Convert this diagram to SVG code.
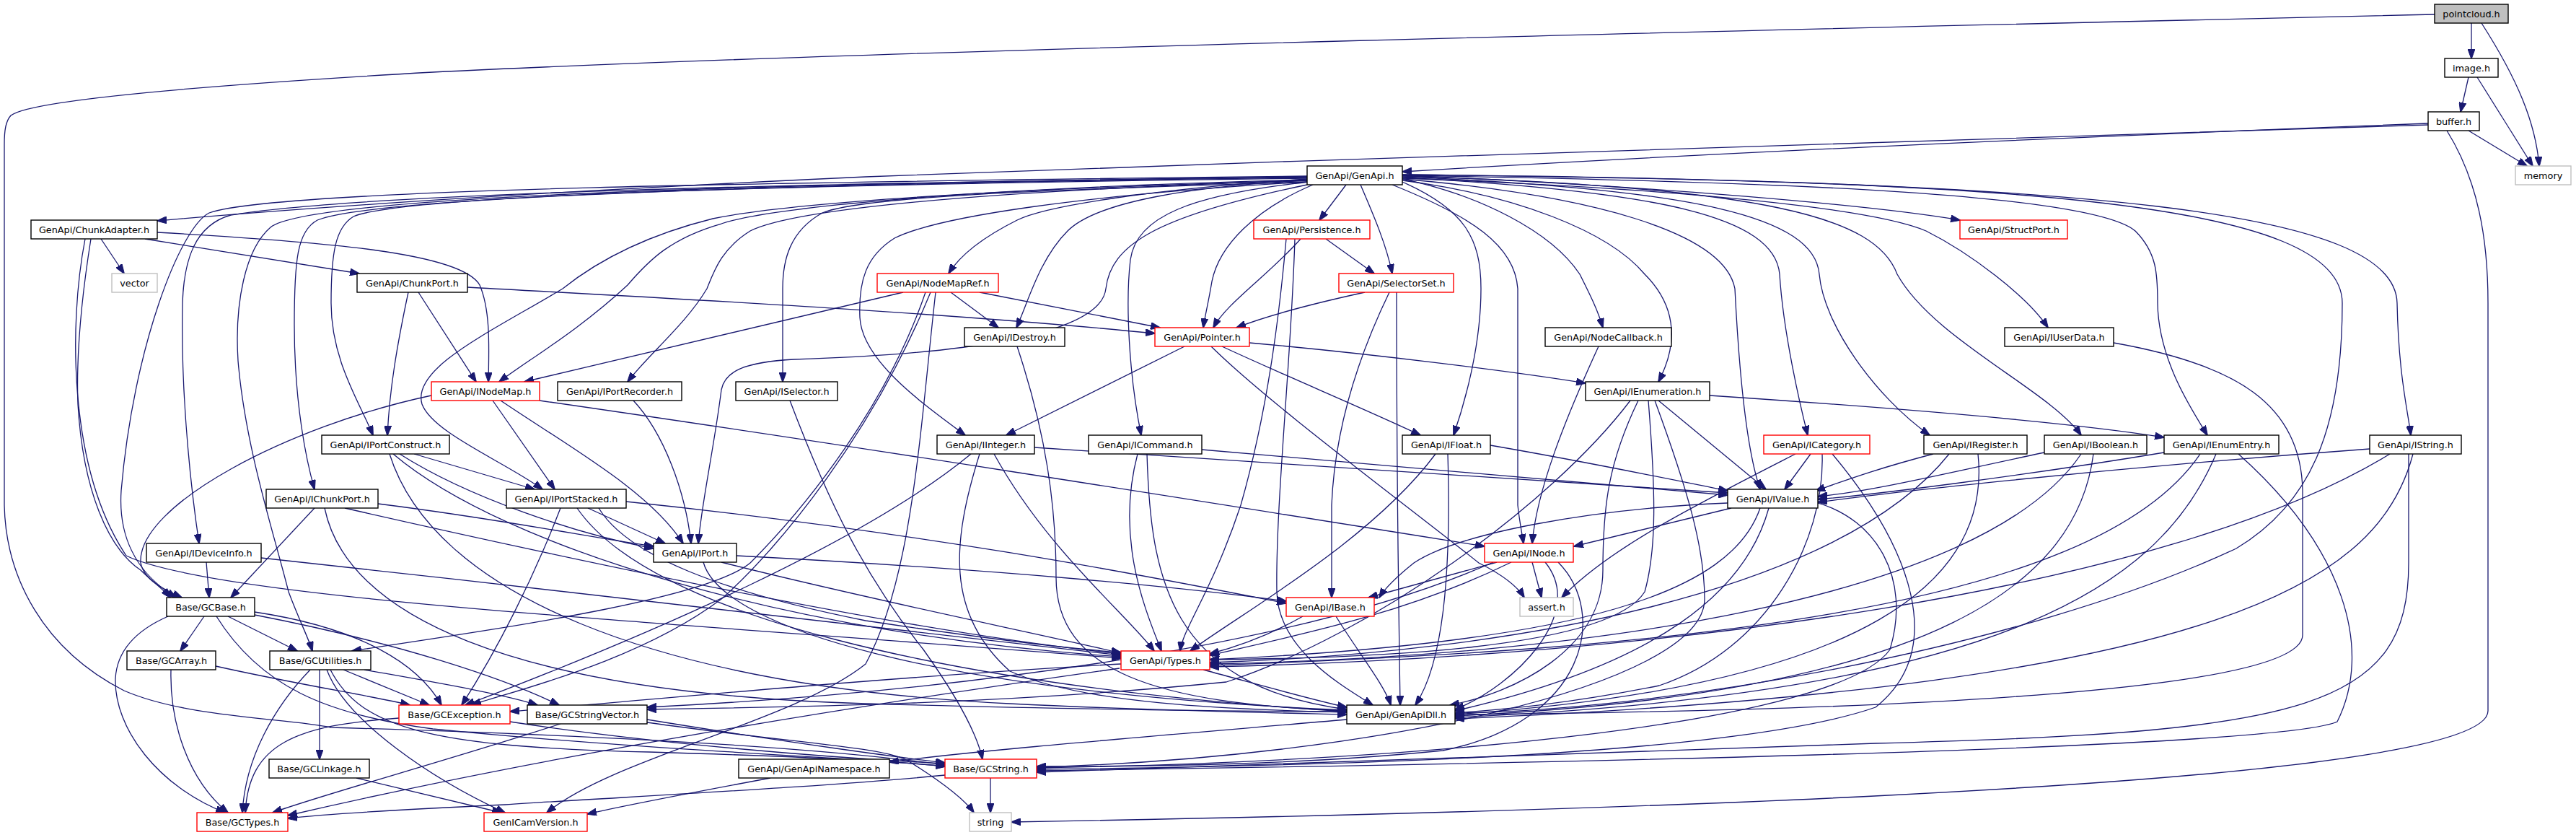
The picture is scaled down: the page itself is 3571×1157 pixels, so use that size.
<svg xmlns="http://www.w3.org/2000/svg" width="3571" height="1157" viewBox="0 0 3571 1157">
<style>
.n rect{fill:#fff;stroke:#000;stroke-width:1.4}
.n.red rect{stroke:#ff0000}
.n.ext rect{stroke:#bfbfbf}
.n.top rect{fill:#bfbfbf}
.n text{font-family:"DejaVu Sans","Liberation Sans",sans-serif;font-size:12.8px;text-anchor:middle;fill:#000}
#edges path{fill:none;stroke:#191970;stroke-width:1.3;marker-end:url(#a)}
</style>
<defs>
<marker id="a" markerWidth="14" markerHeight="10" refX="13" refY="5" orient="auto" markerUnits="userSpaceOnUse">
<path d="M0,0 L14,5 L0,10 z" fill="#191970" stroke="#191970" stroke-width="1"/>
</marker>
</defs>
<rect width="3571" height="1157" fill="#fff"/>
<g id="edges">
<path d="M3426,32 L3426,81"/>
<path d="M3440,32 C3490,110 3515,170 3520,230"/>
<path d="M3375,20 C2500,40 1200,70 600,100 C250,120 40,140 15,160 C8,168 6,180 6,200 L6,700 C8,800 60,900 172,957 C260,995 400,995 459,1008 C700,1015 1100,1030 1310,1060"/>
<path d="M3422,107 L3411,155"/>
<path d="M3434,107 L3511,230"/>
<path d="M3422,181 L3503,230"/>
<path d="M3366,171 C3000,185 2400,210 1944,238"/>
<path d="M3366,173 C3000,182 2000,215 1200,245 C700,268 400,290 218,306"/>
<path d="M3392,181 C3435,250 3449,330 3449,420 L3449,985 C3449,1090 2200,1125 1402,1139"/>
<path d="M1866,256 L1829,305"/>
<path d="M1886,256 C1905,300 1922,340 1930,379"/>
<path d="M1812,248 C1600,262 1450,285 1410,305 C1360,330 1330,355 1315,379"/>
<path d="M1944,243 C2300,258 2600,285 2717,305"/>
<path d="M1812,250 C1650,258 1520,280 1480,320 C1440,360 1425,420 1409,454"/>
<path d="M1820,256 C1740,290 1690,340 1680,390 C1675,420 1670,440 1668,454"/>
<path d="M1944,248 C2050,270 2150,320 2190,380 C2205,410 2215,430 2222,454"/>
<path d="M1944,247 C2350,262 2600,290 2670,320 C2730,350 2810,410 2839,454"/>
<path d="M1812,249 C1300,262 1060,290 1000,310 C930,330 900,360 870,395 C800,460 730,500 692,529"/>
<path d="M1812,250 C1350,265 1100,290 1040,320 C1000,345 990,375 980,400 C950,450 900,490 870,529"/>
<path d="M1812,252 C1500,262 1200,270 1140,295 C1095,320 1085,360 1085,400 L1085,529"/>
<path d="M1944,250 C2100,270 2230,320 2280,380 C2320,420 2330,470 2299,529"/>
<path d="M1812,247 C1100,256 560,270 490,300 C465,315 459,350 459,420 C459,500 500,560 517,603"/>
<path d="M1812,252 C1500,270 1300,300 1240,330 C1200,355 1190,390 1192,440 C1195,500 1280,560 1338,603"/>
<path d="M1815,252 C1650,270 1575,300 1567,360 C1560,420 1565,520 1582,603"/>
<path d="M1944,252 C2030,290 2053,330 2053,400 C2053,480 2030,560 2015,603"/>
<path d="M1944,246 C2300,265 2460,300 2467,380 C2472,460 2495,560 2506,603"/>
<path d="M1944,245 C2350,262 2515,300 2522,380 C2528,450 2600,550 2675,603"/>
<path d="M1944,244 C2450,260 2600,300 2630,380 C2680,470 2840,540 2885,603"/>
<path d="M1944,243 C2500,252 2900,270 2960,320 C2990,350 2991,380 2991,420 C2992,500 3040,570 3060,603"/>
<path d="M1944,242 C2900,252 3320,290 3323,420 C3325,520 3338,570 3342,603"/>
<path d="M1812,246 C1100,255 520,272 440,305 C412,320 408,360 408,450 C408,560 425,640 436,678"/>
<path d="M1812,250 C1400,262 1100,280 988,303 C900,325 830,360 780,400 C680,460 570,510 585,560 C600,600 700,640 752,678"/>
<path d="M1944,248 C2200,270 2390,320 2405,400 C2410,500 2420,620 2440,678"/>
<path d="M1812,245 C1100,254 500,268 320,298 C270,312 255,360 253,420 C250,560 268,700 276,753"/>
<path d="M1812,256 C1600,300 1540,340 1533,400 C1525,470 1300,492 1100,498 C1030,502 1005,515 1000,540 C990,620 972,700 968,753"/>
<path d="M1930,256 C2040,300 2100,340 2104,400 L2104,700 C2106,720 2110,740 2112,753"/>
<path d="M1812,244 C1100,252 380,262 290,295 C250,315 185,480 168,680 C162,770 215,810 244,828"/>
<path d="M1812,245 C1100,254 430,270 375,315 C340,345 325,420 330,500 C340,620 380,740 400,820 C415,860 428,885 433,902"/>
<path d="M1944,242 C2800,250 3247,280 3247,420 C3247,600 3200,700 3100,760 C2800,900 2300,985 2017,988"/>
<path d="M140,331 L172,379"/>
<path d="M201,331 L498,379"/>
<path d="M218,322 C450,335 640,350 665,395 C680,430 678,480 677,529"/>
<path d="M126,331 C115,400 105,480 108,560 C115,680 150,760 195,790 C210,805 225,815 236,828"/>
<path d="M118,331 C95,450 95,650 175,770 C300,830 900,860 1554,912"/>
<path d="M580,405 L660,529"/>
<path d="M566,405 C550,480 540,540 537,603"/>
<path d="M648,398 C900,412 1300,432 1601,462"/>
<path d="M1252,405 L727,529"/>
<path d="M1318,405 L1384,454"/>
<path d="M1358,405 L1608,454"/>
<path d="M1283,405 C1230,560 1120,700 1040,780 C980,830 700,870 488,902"/>
<path d="M1290,405 C1210,600 1080,760 1000,830 C880,920 700,960 654,977"/>
<path d="M1297,405 C1275,600 1265,800 1200,920 C1100,1000 850,1050 758,1126"/>
<path d="M1892,405 C1800,425 1750,440 1714,454"/>
<path d="M1926,405 C1880,500 1850,600 1846,700 L1846,828"/>
<path d="M1936,405 C1936,700 1940,900 1941,977"/>
<path d="M1803,331 C1760,380 1700,420 1682,454"/>
<path d="M1838,331 L1905,379"/>
<path d="M1783,331 C1775,420 1760,560 1720,700 C1680,820 1640,870 1636,902"/>
<path d="M1795,331 C1790,500 1768,700 1770,820 C1772,900 1860,950 1903,977"/>
<path d="M1410,480 C1450,600 1464,700 1464,800 C1464,930 1600,975 1867,985"/>
<path d="M1642,480 L1395,603"/>
<path d="M1694,480 C1780,520 1900,570 1969,603"/>
<path d="M1732,475 C1900,490 2100,515 2198,531"/>
<path d="M1679,480 C1760,560 1950,700 2050,780 C2090,800 2105,815 2113,828"/>
<path d="M2216,480 C2170,580 2130,680 2124,753"/>
<path d="M2930,475 C3100,505 3190,560 3192,680 L3192,880 C3192,960 2600,985 2017,990"/>
<path d="M683,555 L769,678"/>
<path d="M694,555 C790,620 900,680 947,753"/>
<path d="M748,555 C1200,620 1700,700 2058,757"/>
<path d="M598,548 C400,590 190,700 195,780 C200,805 230,818 252,828"/>
<path d="M878,555 C920,600 950,680 958,753"/>
<path d="M1095,555 C1150,700 1200,800 1280,900 C1330,970 1355,1020 1362,1052"/>
<path d="M2370,548 C2700,570 2900,590 3000,606"/>
<path d="M2299,555 L2448,678"/>
<path d="M2271,555 C2230,640 2222,700 2222,790 C2222,900 2100,960 2010,977"/>
<path d="M2285,555 C2295,680 2297,760 2280,820 C2230,900 1900,912 1677,914"/>
<path d="M2294,555 C2340,680 2363,760 2363,830 C2363,950 1900,1050 1437,1063"/>
<path d="M2260,555 C2150,700 1900,880 1700,945 C1400,975 1100,980 897,983"/>
<path d="M574,629 L741,678"/>
<path d="M554,629 C650,690 800,740 906,760"/>
<path d="M545,629 C700,760 1100,880 1554,910"/>
<path d="M540,629 C600,820 900,950 1400,975 C1600,985 1780,988 1867,990"/>
<path d="M1434,620 C1900,650 2200,670 2395,683"/>
<path d="M1378,629 C1450,760 1560,850 1600,902"/>
<path d="M1358,629 C1320,750 1310,850 1400,930 C1500,975 1700,983 1867,987"/>
<path d="M1346,629 C1200,750 900,880 645,977"/>
<path d="M1666,623 C2000,650 2250,675 2395,686"/>
<path d="M1577,629 C1545,750 1590,850 1610,902"/>
<path d="M1590,629 C1595,800 1620,950 1867,983"/>
<path d="M2066,617 C2200,640 2320,665 2395,680"/>
<path d="M1990,629 C1900,750 1720,850 1650,902"/>
<path d="M2007,629 C2012,800 2000,920 1962,977"/>
<path d="M2510,629 L2474,678"/>
<path d="M2489,629 C2350,700 2230,760 2165,828"/>
<path d="M2526,629 C2530,750 2450,900 2300,950 C2150,980 2050,985 2017,988"/>
<path d="M2540,629 C2650,760 2700,900 2600,980 C2400,1050 1800,1062 1437,1066"/>
<path d="M2680,629 C2600,650 2560,665 2517,680"/>
<path d="M2702,629 C2550,820 2100,905 1677,918"/>
<path d="M2742,629 C2760,800 2600,950 2017,990"/>
<path d="M2834,627 C2700,655 2600,680 2520,688"/>
<path d="M2885,629 C2750,830 2200,910 1677,920"/>
<path d="M2902,629 C2880,800 2700,960 2017,992"/>
<path d="M3000,627 C2800,660 2600,685 2520,692"/>
<path d="M3050,629 C2900,850 2300,900 1677,922"/>
<path d="M3072,629 C3000,800 2800,960 2017,994"/>
<path d="M3103,629 C3250,760 3290,900 3240,1000 C3150,1040 2000,1060 1437,1068"/>
<path d="M3285,622 C2900,650 2600,685 2520,696"/>
<path d="M3313,629 C3000,820 2300,910 1677,924"/>
<path d="M3345,629 C3300,800 3100,950 2017,996"/>
<path d="M3339,629 L3339,780 C3339,980 3200,1015 2600,1030 C2000,1050 1700,1060 1437,1070"/>
<path d="M436,704 L320,828"/>
<path d="M524,698 C700,720 820,745 906,757"/>
<path d="M478,704 C900,800 1300,880 1554,906"/>
<path d="M450,704 C480,850 700,960 1200,975 C1500,983 1750,986 1867,986"/>
<path d="M815,704 L922,753"/>
<path d="M868,695 C1300,740 1600,800 1783,836"/>
<path d="M830,704 C870,770 1000,820 1200,860 C1400,890 1500,900 1554,904"/>
<path d="M800,704 C900,850 1300,950 1867,986"/>
<path d="M777,704 C740,800 690,900 640,977"/>
<path d="M2400,704 L2182,757"/>
<path d="M2395,697 C2200,705 2020,740 1960,780 C1935,800 1920,815 1912,828"/>
<path d="M2440,704 C2400,820 2200,890 1677,914"/>
<path d="M2452,704 C2420,820 2300,920 2017,985"/>
<path d="M2520,697 C2600,720 2650,800 2620,900 C2550,1000 2000,1055 1437,1064"/>
<path d="M286,779 L290,828"/>
<path d="M362,773 C800,820 1300,880 1554,908"/>
<path d="M1021,770 C1400,790 1650,815 1783,833"/>
<path d="M1000,779 C1200,830 1450,880 1554,905"/>
<path d="M975,779 C1000,870 1300,960 1867,984"/>
<path d="M2075,779 L1897,828"/>
<path d="M2124,779 L2137,828"/>
<path d="M2095,779 C1950,850 1800,880 1677,908"/>
<path d="M2142,779 C2200,850 2100,950 2017,983"/>
<path d="M2160,779 C2230,850 2200,1000 2000,1040 C1800,1060 1600,1062 1437,1062"/>
<path d="M2070,779 C1800,900 1300,960 897,980"/>
<path d="M283,854 L250,902"/>
<path d="M316,854 L412,902"/>
<path d="M353,848 C500,870 580,920 612,977"/>
<path d="M353,852 C550,890 700,940 775,977"/>
<path d="M233,854 C185,875 162,905 160,940 C158,1010 220,1090 312,1126"/>
<path d="M300,854 C360,950 450,990 600,1010 C900,1040 1200,1050 1310,1062"/>
<path d="M237,928 C235,1000 260,1080 316,1126"/>
<path d="M299,923 C420,950 520,965 568,977"/>
<path d="M430,928 C380,980 340,1050 336,1126"/>
<path d="M443,928 L443,1052"/>
<path d="M453,928 C480,1000 600,1080 700,1126"/>
<path d="M476,928 L595,977"/>
<path d="M505,928 C600,945 700,962 745,977"/>
<path d="M458,928 C500,1010 600,1035 900,1042 C1100,1048 1250,1055 1310,1062"/>
<path d="M553,995 C410,1005 345,1030 340,1126"/>
<path d="M707,1000 C900,1030 1150,1050 1310,1058"/>
<path d="M777,1003 C600,1060 450,1100 378,1126"/>
<path d="M897,997 C1100,1030 1250,1050 1310,1057"/>
<path d="M897,1001 C1100,1030 1230,1035 1260,1055 C1300,1080 1335,1105 1350,1126"/>
<path d="M1867,997 C1600,1020 1350,1040 1233,1056"/>
<path d="M1668,928 C1750,950 1820,970 1867,980"/>
<path d="M1554,920 C1200,940 900,970 707,986"/>
<path d="M1552,926 C1100,990 700,1060 399,1130"/>
<path d="M1852,854 C1880,900 1920,950 1928,977"/>
<path d="M1806,854 C1760,880 1720,895 1677,906"/>
<path d="M494,1078 L695,1126"/>
<path d="M1068,1078 C950,1100 870,1115 814,1128"/>
<path d="M1373,1078 L1373,1126"/>
<path d="M1310,1074 C1150,1090 850,1105 700,1115 C550,1122 450,1128 399,1134"/>
</g>
<g id="n_pointcloud" class="n top"><rect x="3375" y="6" width="102" height="26"/><text x="3426" y="23.5">pointcloud.h</text></g>
<g id="n_image" class="n"><rect x="3389" y="81" width="74" height="26"/><text x="3426" y="98.5">image.h</text></g>
<g id="n_buffer" class="n"><rect x="3366" y="155" width="71" height="26"/><text x="3401.5" y="172.5">buffer.h</text></g>
<g id="n_memory" class="n ext"><rect x="3487" y="230" width="77" height="26"/><text x="3525.5" y="247.5">memory</text></g>
<g id="n_genapi" class="n"><rect x="1812" y="230" width="132" height="26"/><text x="1878" y="247.5">GenApi/GenApi.h</text></g>
<g id="n_chunkadapter" class="n"><rect x="43" y="305" width="175" height="26"/><text x="130.5" y="322.5">GenApi/ChunkAdapter.h</text></g>
<g id="n_persistence" class="n red"><rect x="1738" y="305" width="161" height="26"/><text x="1818.5" y="322.5">GenApi/Persistence.h</text></g>
<g id="n_structport" class="n red"><rect x="2717" y="305" width="149" height="26"/><text x="2791.5" y="322.5">GenApi/StructPort.h</text></g>
<g id="n_vector" class="n ext"><rect x="155" y="379" width="63" height="26"/><text x="186.5" y="396.5">vector</text></g>
<g id="n_chunkport" class="n"><rect x="495" y="379" width="153" height="26"/><text x="571.5" y="396.5">GenApi/ChunkPort.h</text></g>
<g id="n_nodemapref" class="n red"><rect x="1216" y="379" width="168" height="26"/><text x="1300" y="396.5">GenApi/NodeMapRef.h</text></g>
<g id="n_selectorset" class="n red"><rect x="1856" y="379" width="159" height="26"/><text x="1935.5" y="396.5">GenApi/SelectorSet.h</text></g>
<g id="n_idestroy" class="n"><rect x="1337" y="454" width="139" height="26"/><text x="1406.5" y="471.5">GenApi/IDestroy.h</text></g>
<g id="n_pointer" class="n red"><rect x="1601" y="454" width="131" height="26"/><text x="1666.5" y="471.5">GenApi/Pointer.h</text></g>
<g id="n_nodecallback" class="n"><rect x="2142" y="454" width="175" height="26"/><text x="2229.5" y="471.5">GenApi/NodeCallback.h</text></g>
<g id="n_iuserdata" class="n"><rect x="2779" y="454" width="151" height="26"/><text x="2854.5" y="471.5">GenApi/IUserData.h</text></g>
<g id="n_inodemap" class="n red"><rect x="598" y="529" width="150" height="26"/><text x="673" y="546.5">GenApi/INodeMap.h</text></g>
<g id="n_iportrecorder" class="n"><rect x="773" y="529" width="172" height="26"/><text x="859" y="546.5">GenApi/IPortRecorder.h</text></g>
<g id="n_iselector" class="n"><rect x="1020" y="529" width="141" height="26"/><text x="1090.5" y="546.5">GenApi/ISelector.h</text></g>
<g id="n_ienumeration" class="n"><rect x="2198" y="529" width="172" height="26"/><text x="2284" y="546.5">GenApi/IEnumeration.h</text></g>
<g id="n_iportconstruct" class="n"><rect x="446" y="603" width="177" height="26"/><text x="534.5" y="620.5">GenApi/IPortConstruct.h</text></g>
<g id="n_iinteger" class="n"><rect x="1299" y="603" width="135" height="26"/><text x="1366.5" y="620.5">GenApi/IInteger.h</text></g>
<g id="n_icommand" class="n"><rect x="1509" y="603" width="157" height="26"/><text x="1587.5" y="620.5">GenApi/ICommand.h</text></g>
<g id="n_ifloat" class="n"><rect x="1944" y="603" width="122" height="26"/><text x="2005" y="620.5">GenApi/IFloat.h</text></g>
<g id="n_icategory" class="n red"><rect x="2445" y="603" width="147" height="26"/><text x="2518.5" y="620.5">GenApi/ICategory.h</text></g>
<g id="n_iregister" class="n"><rect x="2667" y="603" width="143" height="26"/><text x="2738.5" y="620.5">GenApi/IRegister.h</text></g>
<g id="n_iboolean" class="n"><rect x="2834" y="603" width="142" height="26"/><text x="2905" y="620.5">GenApi/IBoolean.h</text></g>
<g id="n_ienumentry" class="n"><rect x="3000" y="603" width="159" height="26"/><text x="3079.5" y="620.5">GenApi/IEnumEntry.h</text></g>
<g id="n_istring" class="n"><rect x="3285" y="603" width="127" height="26"/><text x="3348.5" y="620.5">GenApi/IString.h</text></g>
<g id="n_ichunkport" class="n"><rect x="369" y="678" width="155" height="26"/><text x="446.5" y="695.5">GenApi/IChunkPort.h</text></g>
<g id="n_iportstacked" class="n"><rect x="702" y="678" width="166" height="26"/><text x="785" y="695.5">GenApi/IPortStacked.h</text></g>
<g id="n_ivalue" class="n"><rect x="2395" y="678" width="125" height="26"/><text x="2457.5" y="695.5">GenApi/IValue.h</text></g>
<g id="n_ideviceinfo" class="n"><rect x="203" y="753" width="159" height="26"/><text x="282.5" y="770.5">GenApi/IDeviceInfo.h</text></g>
<g id="n_iport" class="n"><rect x="906" y="753" width="115" height="26"/><text x="963.5" y="770.5">GenApi/IPort.h</text></g>
<g id="n_inode" class="n red"><rect x="2058" y="753" width="123" height="26"/><text x="2119.5" y="770.5">GenApi/INode.h</text></g>
<g id="n_gcbase" class="n"><rect x="231" y="828" width="122" height="26"/><text x="292" y="845.5">Base/GCBase.h</text></g>
<g id="n_ibase" class="n red"><rect x="1783" y="828" width="122" height="26"/><text x="1844" y="845.5">GenApi/IBase.h</text></g>
<g id="n_assert" class="n ext"><rect x="2107" y="828" width="74" height="26"/><text x="2144" y="845.5">assert.h</text></g>
<g id="n_gcarray" class="n"><rect x="176" y="902" width="123" height="26"/><text x="237.5" y="919.5">Base/GCArray.h</text></g>
<g id="n_gcutilities" class="n"><rect x="374" y="902" width="140" height="26"/><text x="444" y="919.5">Base/GCUtilities.h</text></g>
<g id="n_types" class="n red"><rect x="1554" y="902" width="123" height="26"/><text x="1615.5" y="919.5">GenApi/Types.h</text></g>
<g id="n_gcexception" class="n red"><rect x="553" y="977" width="154" height="26"/><text x="630" y="994.5">Base/GCException.h</text></g>
<g id="n_gcstringvector" class="n"><rect x="731" y="977" width="166" height="26"/><text x="814" y="994.5">Base/GCStringVector.h</text></g>
<g id="n_genapidll" class="n"><rect x="1867" y="977" width="150" height="26"/><text x="1942" y="994.5">GenApi/GenApiDll.h</text></g>
<g id="n_gclinkage" class="n"><rect x="373" y="1052" width="139" height="26"/><text x="442.5" y="1069.5">Base/GCLinkage.h</text></g>
<g id="n_genapinamespace" class="n"><rect x="1024" y="1052" width="209" height="26"/><text x="1128.5" y="1069.5">GenApi/GenApiNamespace.h</text></g>
<g id="n_gcstring" class="n red"><rect x="1310" y="1052" width="127" height="26"/><text x="1373.5" y="1069.5">Base/GCString.h</text></g>
<g id="n_gctypes" class="n red"><rect x="273" y="1126" width="126" height="26"/><text x="336" y="1143.5">Base/GCTypes.h</text></g>
<g id="n_genicamversion" class="n red"><rect x="671" y="1126" width="143" height="26"/><text x="742.5" y="1143.5">GenICamVersion.h</text></g>
<g id="n_string" class="n ext"><rect x="1344" y="1126" width="58" height="26"/><text x="1373" y="1143.5">string</text></g>
</svg>
